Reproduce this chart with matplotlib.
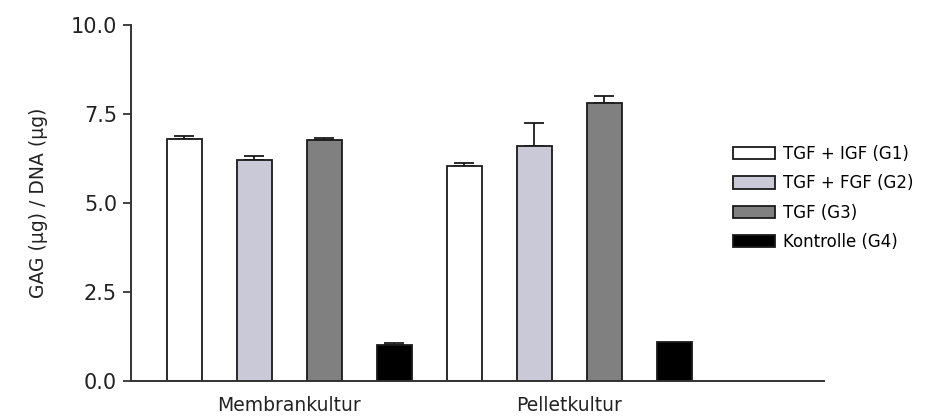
import matplotlib
matplotlib.use("Agg")
import matplotlib.pyplot as plt
import numpy as np

# GAG/DNA ratio per culture type and growth factor group
cultures = ["Membrankultur", "Pelletkultur"]
groups = ["TGF + IGF (G1)", "TGF + FGF (G2)", "TGF (G3)", "Kontrolle (G4)"]
membran_mean = [6.81, 6.20, 6.77, 1.02]
membran_sem = [0.07, 0.12, 0.05, 0.06]
pellet_mean = [6.05, 6.60, 7.80, 1.09]
pellet_sem = [0.07, 0.64, 0.21, 0.0]

colors = ["#ffffff", "#c9c9d7", "#808080", "#000000"]

plt.rcParams["font.family"] = "DejaVu Sans"

fig = plt.figure(figsize=(9.25, 4.19), dpi=100)
ax = fig.add_axes([0.1416, 0.0907, 0.7492, 0.8496])

means = [membran_mean, pellet_mean]
sems = [membran_sem, pellet_sem]
bar_width = 0.51
group_centers = []
for g, (m, s) in enumerate(zip(means, sems)):
    x = np.arange(len(groups)) + g * len(groups)
    group_centers.append(x.mean())
    for i in range(len(groups)):
        ax.bar(x[i], m[i], bar_width, color=colors[i], edgecolor="#1a1a1a",
               linewidth=1.3, label=groups[i] if g == 0 else None, zorder=2)
        if s[i] > 0:
            ax.errorbar(x[i], m[i], yerr=[[0], [s[i]]], fmt="none",
                        ecolor="#1a1a1a", elinewidth=1.3, capsize=7,
                        capthick=1.3, zorder=1)

ax.set_xlim(-0.764, 9.136)
ax.set_ylim(0, 10)
ax.set_yticks([0, 2.5, 5.0, 7.5, 10.0])
ax.set_yticklabels(["0.0", "2.5", "5.0", "7.5", "10.0"])
ax.set_xticks(group_centers)
ax.set_xticklabels(cultures, fontsize=13.5, color="#222222")
ax.tick_params(axis="x", length=0, pad=11)
ax.tick_params(axis="y", length=6, width=1.3, labelsize=15, pad=4,
               color="#333333", labelcolor="#222222")
ax.spines["top"].set_visible(False)
ax.spines["right"].set_visible(False)
for side in ("left", "bottom"):
    ax.spines[side].set_linewidth(1.4)
    ax.spines[side].set_color("#333333")
ax.set_ylabel("GAG (µg) / DNA (µg)", fontsize=13.5, labelpad=16, color="#222222")

fig.legend(loc="upper left", bbox_to_anchor=(0.7924, 0.654), frameon=False,
           fontsize=12, handlelength=2.5, handleheight=0.78,
           handletextpad=0.5, labelspacing=0.68, borderpad=0,
           borderaxespad=0)

fig.savefig("out.png", dpi=100)
